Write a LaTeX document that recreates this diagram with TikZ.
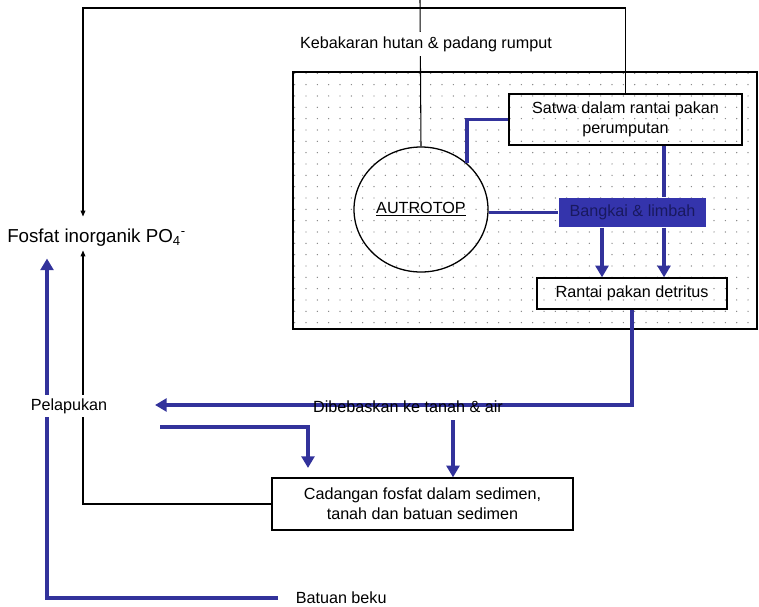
\documentclass[tikz,border=0pt]{standalone}
\usepackage{fontspec}
\setmainfont{Liberation Sans}
\usetikzlibrary{arrows.meta,patterns.meta,shapes.geometric}
\definecolor{cycleblue}{RGB}{50,50,155}
\definecolor{heapblue}{RGB}{52,52,172}
\definecolor{heaptext}{RGB}{25,25,95}
\tikzset{
  flow/.style={line width=3.4pt, color=cycleblue},
  flowtip/.style={flow, -{Triangle[length=10pt,width=11pt]}},
  thinflow/.style={line width=0.9pt, -{Triangle[length=5pt,width=4pt]}},
  box/.style={draw, line width=1.1pt, align=center, inner sep=0pt},
  txt/.style={inner sep=3pt, align=center},
}

\begin{document}
\begin{tikzpicture}[x=0.03cm, y=-0.03cm, font=\fontsize{13.8}{17}\selectfont]
		\useasboundingbox (0,0) rectangle (759,606);
		%%%%% START %%%%%
		
		\draw[line width=1.1pt, pattern={Dots[distance=3.4mm, radius=0.6pt]}, pattern color=black!50] (293,72) rectangle (757,329);
		
		\node[txt, font=\fontsize{16}{19}\selectfont] (fosfat) at (96.5,238) {Fosfat inorganik PO\textsubscript{4}\textsuperscript{-}};
		\node[box, minimum width=6.99cm, minimum height=1.53cm] (satwa) at (625.5,119.5) {Satwa dalam rantai pakan\\perumputan};
		\node[box, ellipse, minimum width=4.02cm, minimum height=3.75cm] (autotop) at (421,209.5) {\underline{AUTROTOP}};
		\node[box, draw=none, fill=heapblue, text=heaptext, minimum width=4.41cm, minimum height=0.87cm] (bangkai) at (632.5,212.5) {Bangkai \& limbah};
		\node[box, minimum width=5.7cm, minimum height=0.93cm] (rantai) at (632,293.5) {Rantai pakan detritus};
		\node[box, minimum width=9.03cm, minimum height=1.56cm] (cadangan) at (422.5,504) {Cadangan fosfat dalam sedimen,\\tanah dan batuan sedimen};
		\node[txt, anchor=west] (batuan) at (292,598) {Batuan beku};
		
		\coordinate (topleft) at (83,8);
		\coordinate (fire) at (420,0);
		\coordinate (dropL) at (602,0);
		\coordinate (dropR) at (664,0);
		\coordinate (relend) at (155,405);
		\coordinate (weathA) at (160,427);
		\coordinate (weathB) at (308,468);
		\coordinate (relB) at (453,420);
		\coordinate (rock) at (47,598);
		
		% black return lines
		\draw[thinflow] (satwa.north) |- (topleft) -- ([yshift=0.27cm]fosfat.north -| topleft);
		\draw[line width=0.9pt] (fire) -- (autotop.north);
		\draw[thinflow] (cadangan.west) -| (fosfat.south -| topleft);
		
		% blue flows
		\draw[flow] (satwa.west) -| (autotop.45);
		\draw[flow] (autotop.east |- bangkai.west) -- (bangkai.west);
		\draw[flow] (satwa.south -| dropR) -- (bangkai.north -| dropR);
		\draw[flowtip] (bangkai.south -| dropR) -- (rantai.north -| dropR);
		\draw[flowtip] (bangkai.south -| dropL) -- (rantai.north -| dropL);
		\draw[flowtip] (rantai.south) |- (relend);
		\draw[flowtip] (weathA) -| (weathB);
		\draw[flowtip] (relB) -- (relB |- cadangan.north);
		\draw[flowtip] ([xshift=-0.42cm]batuan.west) -| ([yshift=-0.24cm]fosfat.south -| rock);
		
		\node[txt] (dibebaskan) at (408,407) {Dibebaskan ke tanah \& air};
		\node[txt, fill=white] (pelapukan) at (69,406) {Pelapukan};
		\node[txt, fill=white, inner sep=4pt] (kebakaran) at (426,44) {Kebakaran hutan \& padang rumput};
		
		%%%%% END %%%%%
	\end{tikzpicture}
\end{document}
